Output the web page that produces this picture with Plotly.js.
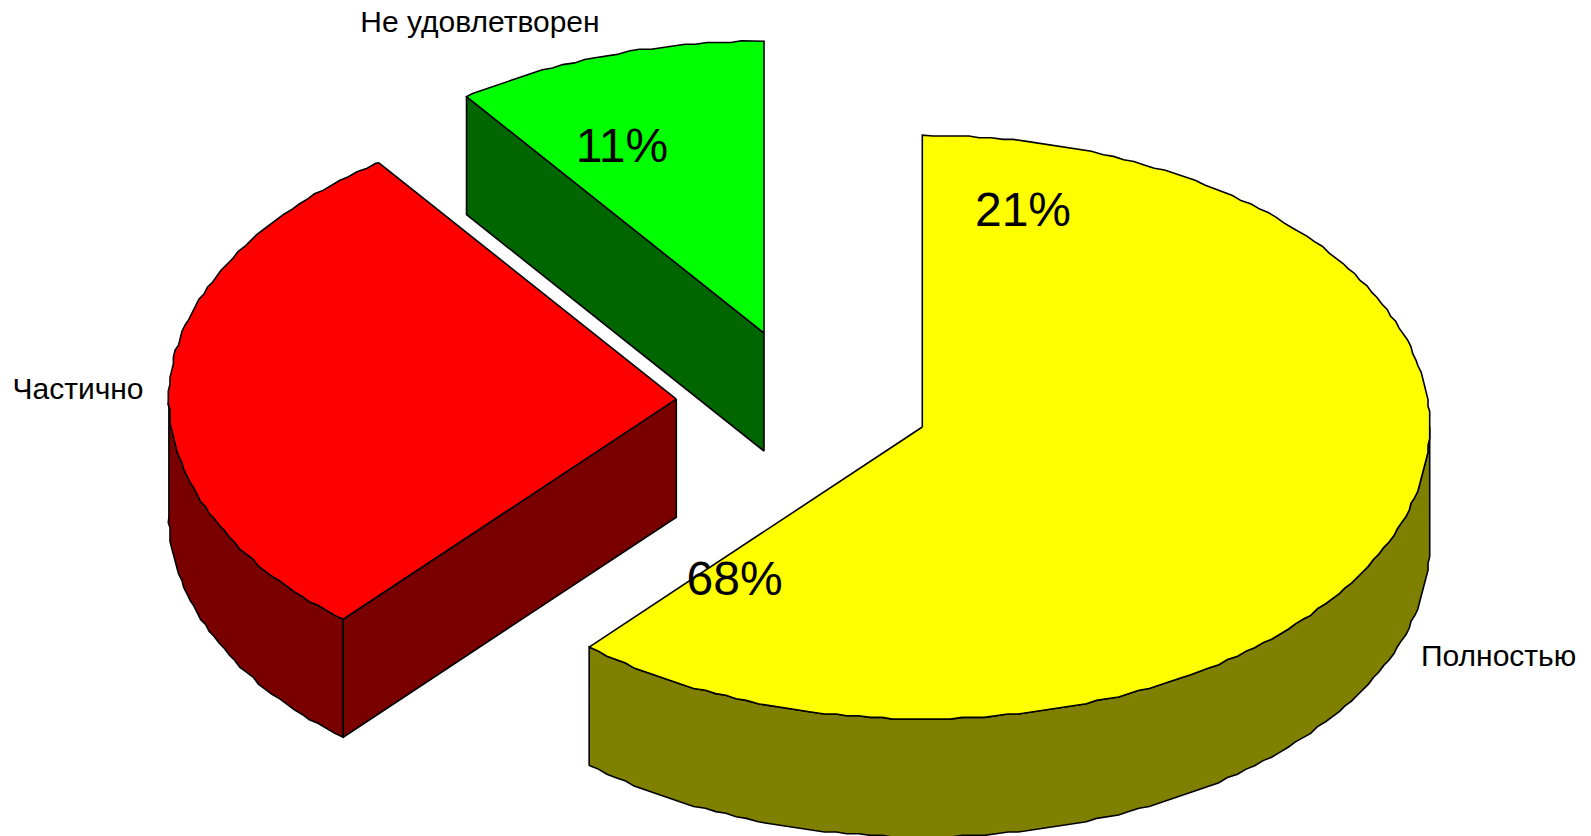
<!DOCTYPE html>
<html>
<head>
<meta charset="utf-8">
<script src="https://cdn.plot.ly/plotly-3.0.1.min.js"></script>
<style>html,body{margin:0;padding:0;background:#fff}#chart{width:1591px;height:836px}</style>
</head>
<body>
<div id="chart"></div>
<script>
// Slice order, clockwise from 12 o'clock (shares)
const categories = ['Полностью', 'Частично', 'Не удовлетворен'];
const sliceShares = [61.4, 28.63, 9.97];
const printedPercents = ['21%', '68%', '11%'];
const topColors = ['#ffff00', '#ff0000', '#00ff00'];
const sideColors = ['#808000', '#7a0000', '#006600'];
// Exploded centres of the wedges (plot units = pixels of the picture)
const centerX = [922.3, 676.3, 764];
const centerY = [427, 399.2, 333];
const radiusX = 507.4, radiusY = 291.8, depth = 118;
const categoryLabelX = [1498.6, 78, 480];
const categoryLabelY = [658.5, 391.6, 24];
const percentLabelX = [1023, 734.6, 622];
const percentLabelY = [214, 583.4, 150];

const grid = 1.7;           // the original outline is a coarse, upscaled polygon
const snap = v => Math.round(v / grid) * grid;
const total = sliceShares.reduce((a, b) => a + b, 0);
const toRad = d => d * Math.PI / 180;
const step = 1.3;           // sample on a shared angle lattice so wall and top edges coincide

function arc(i, from, to) {
  const angles = [from];
  for (let k = Math.floor(from / step) + 1; k * step < to; k++) angles.push(k * step);
  angles.push(to);
  return angles.map((d, k) => {
    const t = toRad(d);
    const end = k === 0 || k === angles.length - 1;
    const x = centerX[i] + radiusX * Math.sin(t), y = centerY[i] - radiusY * Math.cos(t);
    return [end ? x : snap(x), end ? y : snap(y)];
  });
}
function poly(pts, fill) {
  const closed = pts.concat([pts[0]]);
  return {
    type: 'scatter', mode: 'lines', x: closed.map(p => p[0]), y: closed.map(p => p[1]),
    fill: 'toself', fillcolor: fill, line: {color: '#000', width: 1.6, shape: 'linear'},
    hoverinfo: 'skip', showlegend: false
  };
}
const down = pts => pts.map(p => [p[0], p[1] + depth]);

let angle = 0;
const spans = sliceShares.map(v => { const s = [angle, angle + v / total * 360]; angle = s[1]; return s; });

const traces = [];
// side walls: the curved rim visible in front (90..270 deg) and the front-facing cut faces
spans.forEach((s, i) => {
  const from = Math.max(s[0], 90), to = Math.min(s[1], 270);
  if (to > from) {
    const a = arc(i, from, to);
    traces.push(poly(a.concat(down(a).reverse()), sideColors[i]));
  }
  if (i > 0) {
    const e = toRad(s[0]);
    const ex = centerX[i] + radiusX * Math.sin(e), ey = centerY[i] - radiusY * Math.cos(e);
    const c = [centerX[i], centerY[i]], p = [ex, ey];
    traces.push(poly([c, p, [ex, ey + depth], [c[0], c[1] + depth]], sideColors[i]));
  }
});
// top faces
spans.forEach((s, i) => {
  traces.push(poly([[centerX[i], centerY[i]]].concat(arc(i, s[0], s[1])), topColors[i]));
});
const textFont = 'Liberation Sans, Arial, sans-serif';
traces.push({
  type: 'scatter', mode: 'text', x: categoryLabelX, y: categoryLabelY, text: categories,
  textposition: 'middle center', textfont: {family: textFont, size: 30, color: '#000'},
  hoverinfo: 'skip', showlegend: false, cliponaxis: false
});
traces.push({
  type: 'scatter', mode: 'text', x: percentLabelX, y: percentLabelY, text: printedPercents,
  textposition: 'middle center', textfont: {family: textFont, size: 48, color: '#000'},
  hoverinfo: 'skip', showlegend: false, cliponaxis: false
});

const hidden = {visible: false, fixedrange: true};
Plotly.newPlot('chart', traces, {
  width: 1591, height: 836, margin: {l: 0, r: 0, t: 0, b: 0},
  paper_bgcolor: '#fff', plot_bgcolor: '#fff', showlegend: false,
  xaxis: Object.assign({range: [0, 1591]}, hidden),
  yaxis: Object.assign({range: [836, 0]}, hidden)
}, {displayModeBar: false, staticPlot: true});
</script>
</body>
</html>
